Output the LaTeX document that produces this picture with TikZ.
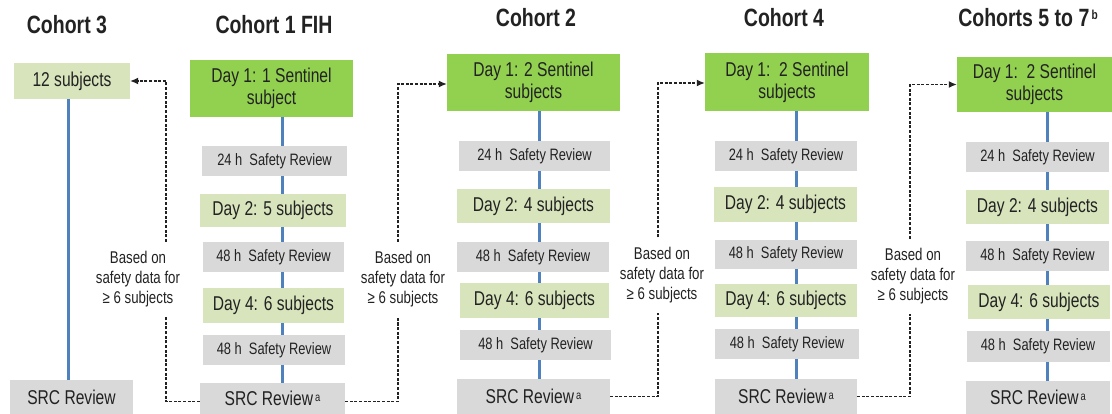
\documentclass[tikz,border=0pt]{standalone}
\usepackage{fontspec}
\setmainfont{Liberation Sans}[FakeStretch=0.78]
\usetikzlibrary{arrows.meta}
\definecolor{dgreen}{HTML}{92D050}
\definecolor{lgreen}{HTML}{D8E4BC}
\definecolor{rgray}{HTML}{D9D9D9}
\definecolor{bline}{HTML}{4F81BD}
\definecolor{ink}{HTML}{222222}
\newcommand{\supa}{\raisebox{0.35ex}{\fontsize{12}{12}\selectfont\,a}}
\begin{document}
\begin{tikzpicture}[x=1pt,y=-1pt,
  box/.style={inner sep=0pt, align=center, text=ink},
  sentinel/.style={box, fill=dgreen, font=\fontsize{20}{22}\selectfont},
  subj/.style={box, fill=lgreen, font=\fontsize{20}{22}\selectfont},
  review/.style={box, fill=rgray, font=\fontsize{16.5}{18}\selectfont},
  src/.style={box, fill=rgray, font=\fontsize{20}{22}\selectfont},
  ttl/.style={font=\bfseries\fontsize{25}{27}\selectfont, inner sep=0pt, text=ink},
  lab/.style={align=center, inner sep=0pt, text=ink, font=\fontsize{17}{20}\selectfont, minimum height=75pt},
  vline/.style={draw=bline, line width=3pt},
  conn/.style={draw=ink, line width=1.25pt, dash pattern=on 3pt off 1.6pt},
  arr/.style={-{Latex[length=8pt,width=7pt]}}
]
\useasboundingbox (0,0) rectangle (1112,414);

% titles
\node[ttl] (t3) at (67,25) {Cohort 3};
\node[ttl] (t1) at (274,25) {Cohort 1 FIH};
\node[ttl] (t2) at (536,18) {Cohort 2};
\node[ttl] (t4) at (784,18) {Cohort 4};
\node[ttl] (t5) at (1028,18) {Cohorts 5 to 7\raisebox{0.6ex}{\fontsize{13}{13}\selectfont\,b}};

% cohort 3
\node[subj, minimum width=116pt, minimum height=36pt] (c3box) at (72,81) {12 subjects};
\node[src, minimum width=123pt, minimum height=34pt] (c3src) at (71.5,397) {SRC Review};

% cohort 1
\node[sentinel, minimum width=163pt, minimum height=57pt] (c1a) at (271.5,88.5) {Day 1: 1 Sentinel\\subject};
\node[review, minimum width=145pt, minimum height=30pt] (c1b) at (274.5,161) {24 h\ \ Safety\ Review};
\node[subj, minimum width=146pt, minimum height=33pt] (c1c) at (273,210.5) {Day 2: 5 subjects};
\node[review, minimum width=141pt, minimum height=30pt] (c1d) at (273.5,257) {48 h\ \ Safety\ Review};
\node[subj, minimum width=141pt, minimum height=35pt] (c1e) at (273.5,305.5) {Day 4: 6 subjects};
\node[review, minimum width=142pt, minimum height=30pt] (c1f) at (274,350) {48 h\ \ Safety\ Review};
\node[src, minimum width=145pt, minimum height=31pt] (c1g) at (272.5,398.5) {SRC Review\supa};

% cohort 2
\node[sentinel, minimum width=173pt, minimum height=57pt] (c2a) at (533.5,82.5) {Day 1: 2 Sentinel\\subjects};
\node[review, minimum width=151pt, minimum height=30pt] (c2b) at (534.5,156) {24 h\ \ Safety\ Review};
\node[subj, minimum width=153pt, minimum height=34pt] (c2c) at (533.5,206) {Day 2: 4 subjects};
\node[review, minimum width=152pt, minimum height=30pt] (c2d) at (533,257) {48 h\ \ Safety\ Review};
\node[subj, minimum width=149pt, minimum height=35pt] (c2e) at (534.5,300.5) {Day 4: 6 subjects};
\node[review, minimum width=151pt, minimum height=30pt] (c2f) at (535.5,345) {48 h\ \ Safety\ Review};
\node[src, minimum width=153pt, minimum height=35pt] (c2g) at (533.5,396.5) {SRC Review\supa};

% cohort 4
\node[sentinel, minimum width=164pt, minimum height=58pt] (c4a) at (787,82) {Day 1:\ \ 2 Sentinel\\subjects};
\node[review, minimum width=142pt, minimum height=30pt] (c4b) at (786,156) {24 h\ \ Safety\ Review};
\node[subj, minimum width=143pt, minimum height=35pt] (c4c) at (785.5,204.5) {Day 2: 4 subjects};
\node[review, minimum width=142pt, minimum height=29pt] (c4d) at (786,254.5) {48 h\ \ Safety\ Review};
\node[subj, minimum width=142pt, minimum height=33pt] (c4e) at (786,300.5) {Day 4: 6 subjects};
\node[review, minimum width=144pt, minimum height=30pt] (c4f) at (787,344) {48 h\ \ Safety\ Review};
\node[src, minimum width=142pt, minimum height=35pt] (c4g) at (786,396.5) {SRC Review\supa};

% cohorts 5 to 7
\node[sentinel, minimum width=155pt, minimum height=55pt] (c5a) at (1034.5,84.5) {Day 1:\ \ 2 Sentinel\\subjects};
\node[review, minimum width=143pt, minimum height=30pt] (c5b) at (1037.5,157) {24 h\ \ Safety\ Review};
\node[subj, minimum width=143pt, minimum height=34pt] (c5c) at (1037.5,207) {Day 2: 4 subjects};
\node[review, minimum width=143pt, minimum height=30pt] (c5d) at (1037.5,256) {48 h\ \ Safety\ Review};
\node[subj, minimum width=142pt, minimum height=34pt] (c5e) at (1039,302) {Day 4: 6 subjects};
\node[review, minimum width=143pt, minimum height=31pt] (c5f) at (1038,346.5) {48 h\ \ Safety\ Review};
\node[src, minimum width=144pt, minimum height=33pt] (c5g) at (1038,397.5) {SRC Review\supa};

% vertical blue lines
\coordinate (c3x) at (68,0);
\draw[vline] (c3box.south -| c3x) -- (c3src.north -| c3x);
\foreach \col/\xx in {c1/282,c2/539,c4/796,c5/1047}{
  \coordinate (\col x) at (\xx,0);
  \foreach \p/\q in {a/b,b/c,c/d,d/e,e/f,f/g}{
    \draw[vline] (\col\p.south -| \col x) -- (\col\q.north -| \col x);
  }
}

% labels
\node[lab] (lab1) at (138,279.5) {Based on\\safety data for\\≥ 6 subjects};
\node[lab] (lab2) at (403,279.5) {Based on\\safety data for\\≥ 6 subjects};
\node[lab] (lab3) at (662,275) {Based on\\safety data for\\≥ 6 subjects};
\node[lab] (lab4) at (913,276.5) {Based on\\safety data for\\≥ 6 subjects};

% dashed connectors
\coordinate (k1) at (166,0);
\coordinate (k2) at (398,0);
\coordinate (k3) at (658,0);
\coordinate (k4) at (910,0);
\draw[conn] ([yshift=-3pt]c1g.west) -| (k1 |- lab1.south);
\draw[conn,arr] (k1 |- lab1.north) |- (c3box.east);
\draw[conn] ([yshift=-3pt]c1g.east) -| (k2 |- lab2.south);
\draw[conn,arr] (k2 |- lab2.north) |- ([yshift=-1.5pt]c2a.west);
\draw[conn] (c2g.east) -| (k3 |- lab3.south);
\draw[conn,arr] (k3 |- lab3.north) |- ([yshift=-1pt]c4a.west);
\draw[conn] (c4g.east) -| (k4 |- lab4.south);
\draw[conn,arr] (k4 |- lab4.north) |- (c5a.west);
\end{tikzpicture}
\end{document}
